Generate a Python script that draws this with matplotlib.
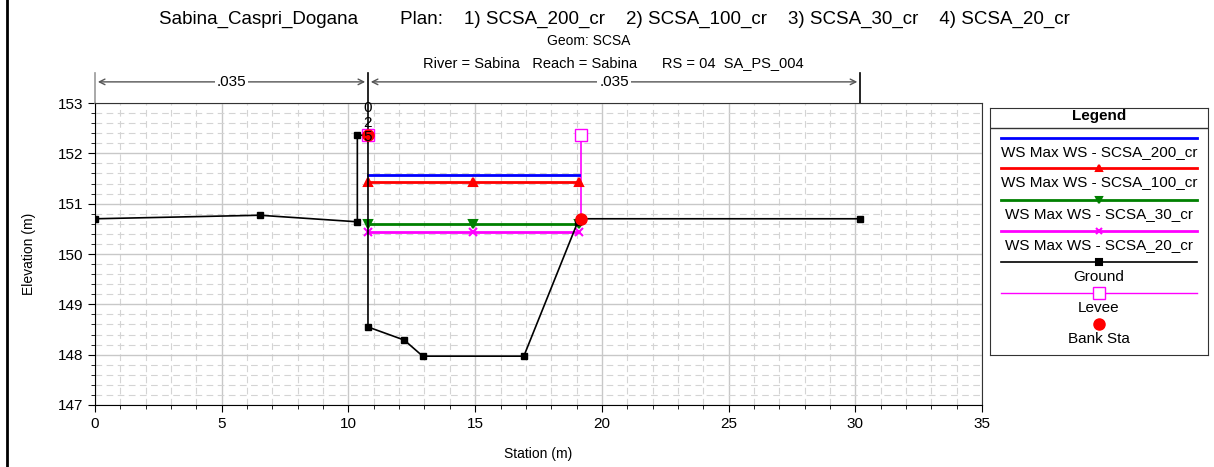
import numpy as np
import matplotlib.pyplot as plt
from matplotlib.lines import Line2D

plt.rcParams['font.family'] = ['Liberation Sans', 'DejaVu Sans']

# ground profile (station, elevation)
ground_sta = [0.0, 6.5, 10.35, 10.35, 10.77, 10.77, 12.2, 12.93, 16.92, 19.05, 19.18, 30.19]
ground_elev = [150.70, 150.77, 150.64, 152.36, 152.36, 148.55, 148.29, 147.97, 147.97, 150.64, 150.70, 150.70]

# water surfaces
ws_sta = [10.77, 14.92, 19.1]
ws_names = ["WS Max WS - SCSA_200_cr", "WS Max WS - SCSA_100_cr",
            "WS Max WS - SCSA_30_cr", "WS Max WS - SCSA_20_cr"]
ws_elev = [151.57, 151.44, 150.60, 150.43]
ws_colors = ["#0000ff", "#ff0000", "#008000", "#ff00ff"]
ws_markers = [None, "^", "v", "x"]

# levees and bank stations
levee_sta = [10.77, 19.18]
levee_top = [152.36, 152.36]
levee_base = [152.36, 150.70]
bank_sta = [10.77, 19.18]
bank_elev = [152.36, 150.70]

# manning n regions
n_bounds = [0.0, 10.77, 30.19]
n_vals = [".035", ".035"]

fig = plt.figure(figsize=(12.14, 4.67), dpi=100)
ax = fig.add_axes([0.0783, 0.1328, 0.7306, 0.6466])

ax.set_xlim(0, 35)
ax.set_ylim(147, 153)
ax.set_xticks(np.arange(0, 36, 5))
ax.set_yticks(np.arange(147, 154, 1))
ax.set_xticks(np.arange(0, 36, 1), minor=True)
ax.set_yticks(np.arange(147, 153.01, 0.2), minor=True)
ax.grid(which="major", color="#c8c8c8", lw=1.0)
ax.grid(which="minor", color="#d4d4d4", lw=0.8, ls=(0, (6, 4)))
ax.set_axisbelow(True)
ax.tick_params(which="major", length=5, labelsize=11, direction="out")
ax.tick_params(which="minor", length=3, direction="out")
for s in ["top", "right"]:
    ax.spines[s].set_color("#333333")
ax.set_xlabel("Station (m)", fontsize=10, labelpad=12)
ax.set_ylabel("Elevation (m)", fontsize=10, labelpad=16)

for y, c, m in zip(ws_elev, ws_colors, ws_markers):
    ax.plot(ws_sta, [y] * len(ws_sta), color=c, lw=2, marker=m, ms=6, mew=1.5, zorder=4)

# levee
ax.plot([levee_sta[1], levee_sta[1]], [levee_base[1], levee_top[1]], color="#ff00ff", lw=1.2, zorder=3)
ax.plot(levee_sta, levee_top, ls="none", marker="s", ms=8, mfc="white", mec="#ff00ff", zorder=5)

ax.plot(ground_sta, ground_elev, color="black", lw=1.2, marker="s", ms=5, zorder=5)
ax.plot(bank_sta, bank_elev, ls="none", marker="o", ms=8, color="#ff0000", zorder=6)

# n value change label
for i, t in enumerate(["0", "2", "5"]):
    ax.text(n_bounds[1], 152.9 - i * 0.29, t, ha="center", va="center", fontsize=11, zorder=7)

# manning n annotation above the plot
tr = ax.get_xaxis_transform()
for i, x in enumerate(n_bounds):
    col = "#999999" if i == 0 else "black"
    ax.plot([x, x], [1.0, 1.1], transform=tr, color=col, lw=1.2, clip_on=False)
ax.plot([n_bounds[1], n_bounds[1]], [0.9, 1.0], transform=tr, color="black", lw=1.2, clip_on=False)
for i in range(2):
    a, b = n_bounds[i], n_bounds[i + 1]
    mid = (a + b) / 2
    ax.annotate("", xy=(a, 1.07), xytext=(mid, 1.07), xycoords=tr, textcoords=tr,
                arrowprops=dict(arrowstyle="->", color="#555555", lw=1))
    ax.annotate("", xy=(b, 1.07), xytext=(mid, 1.07), xycoords=tr, textcoords=tr,
                arrowprops=dict(arrowstyle="->", color="#555555", lw=1))
    ax.text(mid, 1.07, n_vals[i], transform=tr, ha="center", va="center", fontsize=11,
            bbox=dict(fc="white", ec="none", pad=1.5))

# titles
fig.text(0.506, 0.958, "Sabina_Caspri_Dogana        Plan:    1) SCSA_200_cr    2) SCSA_100_cr    3) SCSA_30_cr    4) SCSA_20_cr",
         ha="center", va="center", fontsize=13.5)
fig.text(0.485, 0.912, "Geom: SCSA", ha="center", va="center", fontsize=10)
fig.text(0.505, 0.865, "River = Sabina   Reach = Sabina      RS = 04  SA_PS_004", ha="center", va="center", fontsize=10.5)

# left frame edge
fig.add_artist(Line2D([0.006, 0.006], [0.0, 1.0], color="black", lw=2))

# legend panel, laid out in pixel offsets from its top
lg = fig.add_axes([0.8153, 0.2398, 0.1798, 0.5296])
lg.set_xlim(0, 1)
lg.set_ylim(247.3, 0)
lg.set_xticks([])
lg.set_yticks([])
for s in lg.spines.values():
    s.set_color("#333333")
lg.text(0.5, 8.5, "Legend", ha="center", va="center", fontsize=11, fontweight="bold")
lg.plot([0, 1], [20.6, 20.6], color="#333333", lw=1)

entries = [(n, c, m, 2) for n, c, m in zip(ws_names, ws_colors, ws_markers)]
entries.append(("Ground", "black", "s", 1.2))
entries.append(("Levee", "#ff00ff", "s", 1.0))
line_y = [30, 60.6, 92.6, 123.3, 154, 185.6]
label_y = [44, 74.6, 106, 137, 169, 200]
for (name, c, m, lw), yl, yt in zip(entries, line_y, label_y):
    lg.plot([0.05, 0.95], [yl, yl], color=c, lw=lw)
    if name == "Levee":
        lg.plot([0.5], [yl], marker="s", ms=8, mfc="white", mec=c)
    elif m is not None:
        lg.plot([0.5], [yl], marker=m, ms=5, color=c, mew=1.5)
    lg.text(0.5, yt, name, ha="center", va="center", fontsize=11)
lg.plot([0.5], [216.3], marker="o", ms=8, color="#ff0000", ls="none")
lg.text(0.5, 231, "Bank Sta", ha="center", va="center", fontsize=11)

fig.savefig("out.png", dpi=100)
